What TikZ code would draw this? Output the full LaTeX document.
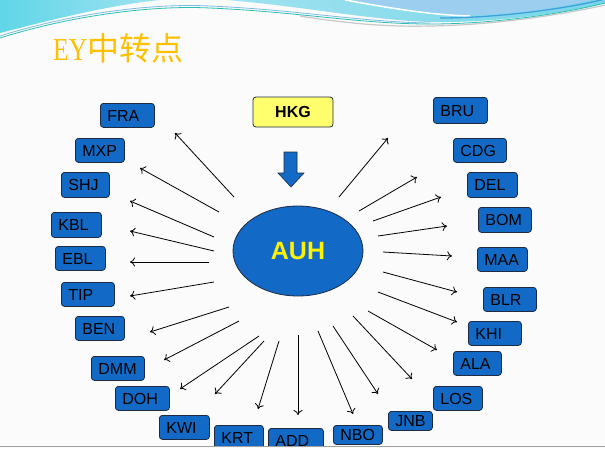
\documentclass[tikz,border=0pt]{standalone}
\usepackage{fontspec}
\usepackage{graphicx}
\setmainfont{Liberation Sans}
\newfontfamily\cjkfont{Noto Sans CJK SC}
\newfontfamily\titleserif{Liberation Serif}
\usetikzlibrary{arrows.meta,shapes.geometric}
\definecolor{aptblue}{RGB}{18,106,198}
\definecolor{aptedge}{RGB}{30,42,66}
\definecolor{hkgyellow}{RGB}{255,255,110}
\definecolor{titlegold}{RGB}{255,192,0}
\definecolor{bgpaper}{RGB}{251,251,251}
\definecolor{cyanA}{RGB}{96,214,232}
\definecolor{cyanB}{RGB}{160,226,240}
\definecolor{cyanC}{RGB}{118,214,232}
\definecolor{skyblue}{RGB}{156,206,240}
\definecolor{waveblue}{RGB}{64,160,222}
\definecolor{waveteal}{RGB}{46,190,176}
\definecolor{wavegray}{RGB}{200,200,200}
\begin{document}
\begin{tikzpicture}[x=1pt,y=-1pt,
  apt/.style={draw=aptedge, line width=0.8pt, fill=aptblue, rounded corners=3pt,
    anchor=north west, align=left, inner xsep=7pt, inner ysep=0pt,
    text height=11.5pt, text depth=0pt, font=\fontsize{16}{16}\selectfont, text=black},
  ray/.style={line width=0.8pt, draw=black, -{To[length=5pt,width=9pt]}}]
\useasboundingbox (0,0) rectangle (605,448);
\fill[bgpaper] (0,0) rectangle (605,448);
\begin{scope}
\clip (0,0) rectangle (605,446);
% --- top decoration ---
\shade[left color=cyanA, right color=cyanB] (0,0) -- (0,33) .. controls (50,20) and (110,5) .. (160,0) -- cycle;
\shade[left color=cyanB, right color=cyanC] (227,0) .. controls (300,6) and (370,20) .. (430,22) .. controls (500,23) and (570,12) .. (605,3) -- (605,0) -- cycle;
\fill[skyblue] (350,0) .. controls (390,7) and (430,14) .. (470,15) .. controls (520,15) and (570,5) .. (592,0) -- cycle;
\draw[white, line width=1.5pt] (345,0) .. controls (390,8) and (430,15) .. (470,16);
\draw[waveblue, line width=1.3pt] (440,18) .. controls (500,18) and (570,8) .. (605,-1);
\draw[wavegray, line width=1.2pt] (300,16) .. controls (350,24) and (390,27) .. (430,26) .. controls (500,25) and (570,13) .. (605,5);
\draw[waveblue!70, line width=0.8pt] (0,36) .. controls (70,14) and (150,3) .. (210,6) .. controls (300,10) and (360,22) .. (430,23);
\draw[waveteal, line width=0.8pt] (0,38) .. controls (70,16) and (150,5) .. (210,8) .. controls (300,12) and (360,24) .. (430,24) .. controls (500,24) and (570,12) .. (605,3);
% --- title ---
\node[anchor=base west, inner sep=0pt, text=titlegold] (title) at (53,60)
  {\fontsize{32}{32}\selectfont\titleserif\scalebox{0.8}[1]{EY}\cjkfont 中转点};
% --- centre ---
\node[ellipse, draw=aptedge, line width=0.8pt, fill=aptblue, minimum width=130pt, minimum height=90pt,
  inner sep=0pt, font=\fontsize{25}{25}\selectfont\bfseries, text=yellow] (AUH) at (298,251) {AUH};
\node[draw=aptedge, line width=0.8pt, fill=hkgyellow, rounded corners=3pt, minimum width=80pt, minimum height=30pt,
  inner sep=0pt, font=\fontsize{16}{16}\selectfont\bfseries] (HKG) at (293,112) {HKG};
\draw[fill=aptblue, draw=aptedge, line width=0.6pt] (284,152) -- (297,152) -- (297,173) -- (304,173) -- (291,187) -- (278,173) -- (284,173) -- cycle;
% --- destinations ---
\node[apt, text width=40pt, minimum height=24pt] (FRA) at (100,103) {FRA};
\node[apt, text width=35pt, minimum height=24pt] (MXP) at (75,138) {MXP};
\node[apt, text width=34pt, minimum height=25pt] (SHJ) at (61,172) {SHJ};
\node[apt, text width=36pt, minimum height=25pt] (KBL) at (51,212) {KBL};
\node[apt, text width=36pt, minimum height=24pt] (EBL) at (55,246) {EBL};
\node[apt, text width=39pt, minimum height=24pt] (TIP) at (61,282) {TIP};
\node[apt, text width=35pt, minimum height=24pt] (BEN) at (75,316) {BEN};
\node[apt, text width=39pt, minimum height=24pt] (DMM) at (91,356) {DMM};
\node[apt, text width=40pt, minimum height=24pt] (DOH) at (115,386) {DOH};
\node[apt, text width=36pt, minimum height=24pt] (KWI) at (159,415) {KWI};
\node[apt, text width=35pt, minimum height=24pt] (KRT) at (214,425) {KRT};
\node[apt, text width=41pt, minimum height=24pt] (ADD) at (268,428) {ADD};
\node[apt, text width=35pt, minimum height=19pt] (NBO) at (333,425) {NBO};
\node[apt, text width=30pt, minimum height=19pt] (JNB) at (388,411) {JNB};
\node[apt, text width=35pt, minimum height=24pt] (LOS) at (433,386) {LOS};
\node[apt, text width=34pt, minimum height=24pt] (ALA) at (453,351) {ALA};
\node[apt, text width=39pt, minimum height=24pt] (KHI) at (468,321) {KHI};
\node[apt, text width=39pt, minimum height=24pt] (BLR) at (483,287) {BLR};
\node[apt, text width=36pt, minimum height=24pt] (MAA) at (477,247) {MAA};
\node[apt, text width=39pt, minimum height=25pt] (BOM) at (478,207) {BOM};
\node[apt, text width=36pt, minimum height=25pt] (DEL) at (467,172) {DEL};
\node[apt, text width=39pt, minimum height=24pt] (CDG) at (453,138) {CDG};
\node[apt, text width=40pt, minimum height=26pt] (BRU) at (433,97) {BRU};
% --- rays ---
\foreach \n/\sx/\sy/\ex/\ey in {
  FRA/234/197/175/133, MXP/219/212/140/168, SHJ/214/237/130/201, KBL/214/251/130/231,
  EBL/209/262/130/262, TIP/214/282/130/296, BEN/229/307/150/332, DMM/239/321/164/360,
  DOH/259/336/180/389, KWI/264/341/215/394, KRT/279/341/258/409, ADD/298/335/298/415,
  NBO/318/331/353/414, JNB/333/326/378/394, LOS/353/316/412/379, ALA/368/311/437/350,
  KHI/378/292/457/322, BLR/383/272/457/292, MAA/383/252/452/256, BOM/378/236/447/226,
  DEL/373/221/441/197, CDG/359/211/417/177, BRU/339/197/388/138}{
  \coordinate (s\n) at (\sx,\sy);
  \coordinate (e\n) at (\ex,\ey);
  \draw[ray] (s\n) -- (e\n);
}
\end{scope}
\draw[wavegray!80!black, line width=1.2pt] (0,446.6) -- (605,446.6);
\end{tikzpicture}
\end{document}
